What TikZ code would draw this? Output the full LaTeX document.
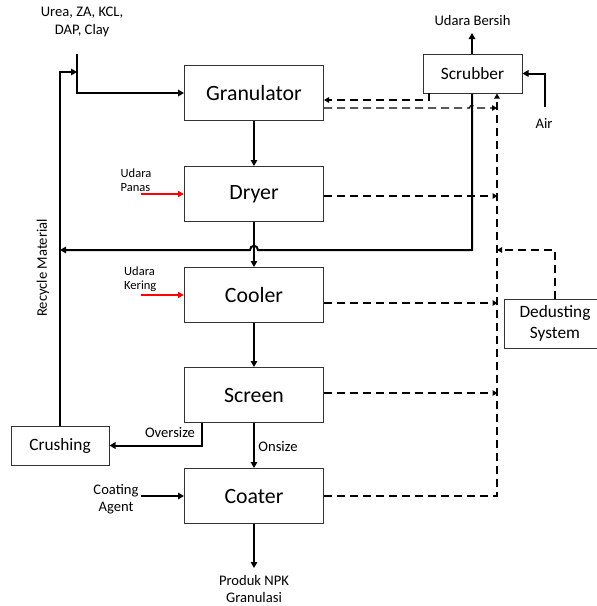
\documentclass[tikz,border=0pt]{standalone}
\usepackage{fontspec}
\setmainfont{Carlito}
\usetikzlibrary{arrows.meta}
\begin{document}
\begin{tikzpicture}[x=1pt,y=-1pt,
  proc/.style={draw=black!80,line width=1pt,minimum width=139pt,minimum height=55pt,inner sep=0pt,font=\fontsize{21.8}{24}\selectfont},
  aux/.style={draw=black!80,line width=1pt,inner sep=0pt,font=\fontsize{17.3}{20.5}\selectfont,align=center},
  lbl/.style={inner sep=0pt,font=\fontsize{14.6}{17.5}\selectfont,align=center},
  tinylbl/.style={inner sep=0pt,font=\fontsize{12.5}{14.5}\selectfont,align=left,anchor=west},
  flow/.style={line width=2pt,-{Triangle[length=6pt,width=6.5pt]}},
  gas/.style={line width=1.2pt,dash pattern=on 8pt off 5pt,-{Triangle[length=5pt,width=5.5pt]}},
  hot/.style={line width=2pt,red,-{Triangle[length=6pt,width=6pt]}}]

\useasboundingbox (0,0) rectangle (597,606);

% main process units
\node[proc] (gran) at (254,93) {Granulator};
\node[proc] (dryer) at (254,194) {Dryer};
\node[proc] (cool) at (254,295) {Cooler};
\node[proc] (screen) at (254,395) {Screen};
\node[proc] (coat) at (254,496) {Coater};
\node[aux,minimum width=99pt,minimum height=39pt] (scrub) at (472.5,73.5) {Scrubber};
\node[aux,minimum width=102pt,minimum height=49pt] (dedust) at (555,323.5) {Dedusting\\System};
\node[aux,minimum width=98pt,minimum height=39pt] (crush) at (60,445.5) {Crushing};

% labels
\node[lbl] (raw) at (82,22) {Urea, ZA, KCL,\\DAP, Clay};
\node[lbl] (clean) at (472.5,20) {Udara Bersih};
\node[lbl] (air) at (544,123) {Air};
\node[tinylbl] (panas) at (120.5,180) {Udara\\Panas};
\node[tinylbl] (kering) at (124,279) {Udara\\Kering};
\node[lbl,rotate=90] (recyc) at (43,268) {Recycle Material};
\node[lbl] (over) at (170,433) {Oversize};
\node[lbl] (on) at (278,447) {Onsize};
\node[lbl] (coatag) at (116,499) {Coating\\Agent};
\node[lbl] (prod) at (254,589) {Produk NPK\\Granulasi};

% coordinates for free ends
\coordinate (in) at (77,54);
\coordinate (cleantop) at (472,33);
\coordinate (airin) at (545,107);
\coordinate (outprod) at (254,568);
\coordinate (ovx) at (202,0);
\coordinate (coatin) at (141,496);
\coordinate (hot1) at (141,194);
\coordinate (hot2) at (141,295);
\coordinate (bus) at (497,0);
\coordinate (s1) at (429,93);
\coordinate (dj) at (497,250);
\coordinate (sx) at (472,0);

% raw material input and recycle
\draw[flow] (in) |- (gran.west);
\draw[flow] (crush.north) |- (77,72);
\draw[flow] (scrub.south -| sx) -- (472,250) -- (258,250)
  .. controls (258,244.5) and (250,244.5) .. (250,250) -- (60,250);

% scrubber streams
\draw[flow] (scrub.north -| sx) -- (cleantop);
\draw[flow] (airin) |- (scrub.east);

% main chain
\draw[flow] (gran) -- (dryer);
\draw[flow] (dryer) -- (cool);
\draw[flow] (cool) -- (screen);
\draw[flow] (screen) -- (coat);
\draw[flow] (coat) -- (outprod);
\draw[flow] (screen.south -| ovx) |- (crush.east);
\draw[flow] (coatin) -- (coat.west);
\draw[hot] (hot1) -- (dryer.west);
\draw[hot] (hot2) -- (cool.west);

% dust / gas lines
\draw[gas] (s1) |- ([yshift=-7pt]gran.east);
\draw[gas] ([yshift=-15pt]gran.east) -- (469.5,108)
  .. controls (469.5,104.5) and (474.5,104.5) .. (474.5,108) -- (497,108);
\draw[gas] ([yshift=-2pt]dryer.east) -- ++(173.5,0);
\draw[gas] ([yshift=-8pt]cool.east) -- ++(173.5,0);
\draw[gas] ([yshift=2pt]screen.east) -- ++(173.5,0);
\draw[gas] (coat.east) -| (scrub.south -| bus);
\draw[gas] (dedust.north) |- (dj);
\end{tikzpicture}
\end{document}
